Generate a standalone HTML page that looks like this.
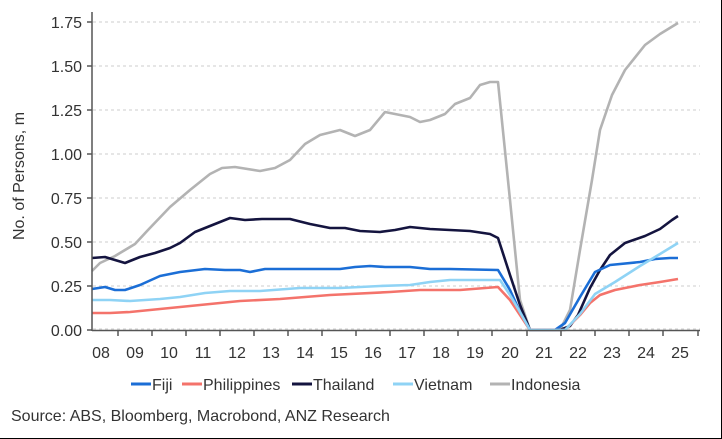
<!DOCTYPE html><html><head><style>body{margin:0;background:#fff}svg{display:block;font-family:"Liberation Sans",sans-serif}</style></head><body>
<svg width="722" height="439" viewBox="0 0 722 439">
<rect x="0" y="0" width="722" height="439" fill="#fff"/>
<line x1="721.5" y1="0" x2="721.5" y2="439" stroke="#000"/>
<line x1="0" y1="438.5" x2="722" y2="438.5" stroke="#000"/>
<g stroke="#ccc" stroke-dasharray="3,3" stroke-width="1">
<line x1="93" y1="22" x2="700" y2="22"/><line x1="93" y1="66" x2="700" y2="66"/><line x1="93" y1="110" x2="700" y2="110"/><line x1="93" y1="154" x2="700" y2="154"/><line x1="93" y1="198" x2="700" y2="198"/><line x1="93" y1="242" x2="700" y2="242"/><line x1="93" y1="286" x2="700" y2="286"/><line x1="93" y1="329" x2="700" y2="329"/>
</g>
<g fill="none" stroke-width="2.6" stroke-linejoin="round">
<polyline stroke="#b3b3b3" points="92,271 100,263 115,256 135,244 148,230 170,207 190,190 210,174 222,168 235,167 260,171 275,168 290,160 305,144 320,135 340,130 355,136 370,130 385,112 400,115 410,117 420,122 430,120 445,114 455,104 470,98 480,85 490,82 498,82 510,200 520,300 530,330 560,330 570,310 580,250 592,180 600,130 612,95 625,70 645,45 660,34 678,23"/>
<polyline stroke="#14143f" points="92,258 105,257 115,260 125,263 140,257 155,253 170,248 180,243 195,232 215,224 230,218 245,220 262,219 290,219 310,224 330,228 345,228 360,231 380,232 395,230 410,227 430,229 450,230 470,231 490,234 498,238 510,275 520,305 530,330 560,330 570,326 578,315 590,288 600,270 610,255 625,243 645,236 660,229 672,220 678,216"/>
<polyline stroke="#1b6ed6" points="92,289 105,287 115,290 125,290 140,285 160,276 180,272 205,269 225,270 240,270 250,272 265,269 300,269 320,269 340,269 355,267 370,266 385,267 410,267 430,269 450,269 498,270 510,290 520,312 530,330 555,330 565,323 580,297 595,272 610,265 640,262 655,259 670,258 678,258"/>
<polyline stroke="#f4736b" points="92,313 110,313 130,312 160,309 200,305 240,301 280,299 330,295 390,292 420,290 460,290 498,287 510,300 520,315 530,330 565,330 580,315 590,303 600,295 615,290 640,285 660,282 678,279"/>
<polyline stroke="#8fd3f5" points="92,300 110,300 130,301 160,299 180,297 205,293 230,291 260,291 300,288 340,288 380,286 410,285 430,282 450,280 500,280 510,295 520,312 530,330 565,330 580,314 595,294 615,282 640,266 660,254 678,243"/>
</g>
<g stroke="#555" stroke-width="1.5">
<line x1="92" y1="12" x2="92" y2="331"/><line x1="92" y1="330.5" x2="700" y2="330.5"/>
<line x1="87" y1="22" x2="92" y2="22"/><line x1="87" y1="66" x2="92" y2="66"/><line x1="87" y1="110" x2="92" y2="110"/><line x1="87" y1="154" x2="92" y2="154"/><line x1="87" y1="198" x2="92" y2="198"/><line x1="87" y1="242" x2="92" y2="242"/><line x1="87" y1="286" x2="92" y2="286"/><line x1="87" y1="330" x2="92" y2="330"/>
</g>
<g fill="#333" font-size="16" text-anchor="end">
<text x="82" y="28">1.75</text><text x="82" y="72">1.50</text><text x="82" y="116">1.25</text><text x="82" y="160">1.00</text><text x="82" y="204">0.75</text><text x="82" y="248">0.50</text><text x="82" y="292">0.25</text><text x="82" y="336">0.00</text>
</g>
<text transform="translate(24,176) rotate(-90)" text-anchor="middle" font-size="16" fill="#333">No. of Persons, m</text>
<g stroke="#555" stroke-width="1.5">
<line x1="118" y1="330" x2="118" y2="336"/><line x1="152" y1="330" x2="152" y2="336"/><line x1="186" y1="330" x2="186" y2="336"/><line x1="220" y1="330" x2="220" y2="336"/><line x1="254" y1="330" x2="254" y2="336"/><line x1="288" y1="330" x2="288" y2="336"/><line x1="322" y1="330" x2="322" y2="336"/><line x1="356" y1="330" x2="356" y2="336"/><line x1="390" y1="330" x2="390" y2="336"/><line x1="424" y1="330" x2="424" y2="336"/><line x1="458" y1="330" x2="458" y2="336"/><line x1="492" y1="330" x2="492" y2="336"/><line x1="527" y1="330" x2="527" y2="336"/><line x1="561" y1="330" x2="561" y2="336"/><line x1="595" y1="330" x2="595" y2="336"/><line x1="629" y1="330" x2="629" y2="336"/><line x1="663" y1="330" x2="663" y2="336"/><line x1="698" y1="330" x2="698" y2="336"/>
</g>
<g fill="#333" font-size="16" text-anchor="middle">
<text x="101" y="358">08</text><text x="135" y="358">09</text><text x="169" y="358">10</text><text x="203" y="358">11</text><text x="237" y="358">12</text><text x="271" y="358">13</text><text x="305" y="358">14</text><text x="339" y="358">15</text><text x="373" y="358">16</text><text x="407" y="358">17</text><text x="441" y="358">18</text><text x="475" y="358">19</text><text x="510" y="358">20</text><text x="544" y="358">21</text><text x="578" y="358">22</text><text x="612" y="358">23</text><text x="646" y="358">24</text><text x="680" y="358">25</text>
</g>
<g font-size="16" fill="#333" stroke-width="3">
<line x1="131" y1="384" x2="151" y2="384" stroke="#1b6ed6"/><text x="152" y="390">Fiji</text>
<line x1="182" y1="384" x2="202" y2="384" stroke="#f4736b"/><text x="203" y="390">Philippines</text>
<line x1="292" y1="384" x2="312" y2="384" stroke="#14143f"/><text x="313" y="390">Thailand</text>
<line x1="393" y1="384" x2="413" y2="384" stroke="#8fd3f5"/><text x="414" y="390">Vietnam</text>
<line x1="490" y1="384" x2="510" y2="384" stroke="#b3b3b3"/><text x="511" y="390">Indonesia</text>
</g>
<text x="11" y="421" font-size="16" fill="#333">Source: ABS, Bloomberg, Macrobond, ANZ Research</text>
</svg>
</body></html>
